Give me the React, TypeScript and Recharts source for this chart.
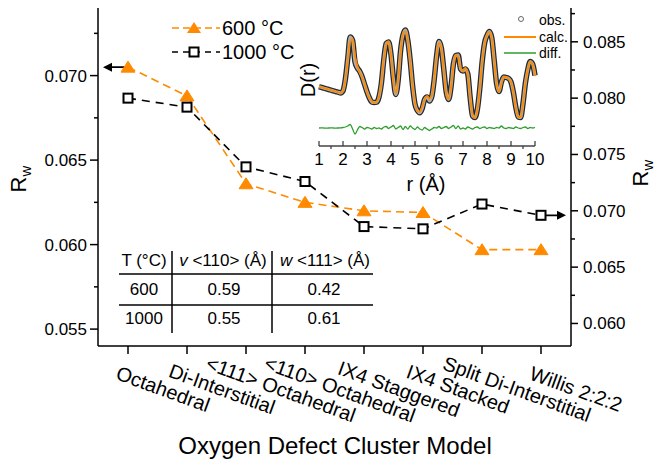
import React from 'react';
import { LineChart, Line, XAxis, YAxis } from 'recharts';

const FONT = "Arial, 'Liberation Sans', Helvetica, sans-serif";

// ---- main chart data ----
const categories = [
  'Octahedral',
  'Di-Interstitial',
  '<111> Octahedral',
  '<110> Octahedral',
  'IX4 Staggered',
  'IX4 Stacked',
  'Split Di-Interstitial',
  'Willis 2:2:2',
];
const rw600 = [0.0705, 0.0688, 0.0636, 0.0625, 0.062, 0.0619, 0.0597, 0.0597];
const rw1000 = [0.08, 0.0792, 0.0739, 0.0726, 0.0686, 0.0684, 0.0706, 0.0696];

const leftTicks = [0.055, 0.0575, 0.06, 0.0625, 0.065, 0.0675, 0.07, 0.0725];
const rightTicks = [0.06, 0.0625, 0.065, 0.0675, 0.07, 0.0725, 0.075, 0.0775, 0.08, 0.0825, 0.085, 0.0875];

// ---- table ----
const tableHeader = ['T (°C)', '<110> (Å)', '<111> (Å)'];
const tableTemps = ['600', '1000'];
const tableV = ['0.59', '0.55'];
const tableW = ['0.42', '0.61'];

// ---- inset PDF data ----
const rValues = [
  1.0, 1.1, 1.2, 1.3, 1.4, 1.5, 1.6, 1.7, 1.8, 1.9,
  2.0, 2.1, 2.2, 2.3, 2.4, 2.5, 2.6, 2.7, 2.8, 2.9,
  3.0, 3.1, 3.2, 3.3, 3.4, 3.5, 3.6, 3.7, 3.8, 3.9,
  4.0, 4.1, 4.2, 4.3, 4.4, 4.5, 4.6, 4.7, 4.8, 4.9,
  5.0, 5.1, 5.2, 5.3, 5.4, 5.5, 5.6, 5.7, 5.8, 5.9,
  6.0, 6.1, 6.2, 6.3, 6.4, 6.5, 6.6, 6.7, 6.8, 6.9,
  7.0, 7.1, 7.2, 7.3, 7.4, 7.5, 7.6, 7.7, 7.8, 7.9,
  8.0, 8.1, 8.2, 8.3, 8.4, 8.5, 8.6, 8.7, 8.8, 8.9,
  9.0, 9.1, 9.2, 9.3, 9.4, 9.5, 9.6, 9.7, 9.8, 9.9,
  10.0,
];
const dObs = [
  4.13, 4.06, 3.99, 3.92, 3.85, 3.78, 3.71, 3.64, 3.58, 3.51,
  3.72, 4.9, 7.0, 9.1, 8.75, 6.6, 6.0, 5.65, 5.1, 4.35,
  3.62, 3.0, 2.6, 2.55, 2.58, 3.1, 4.5, 6.85, 8.45, 8.6,
  7.35, 4.95, 3.35, 4.82, 7.75, 9.3, 9.8, 8.75, 6.75, 4.2,
  2.38, 1.75, 1.52, 1.95, 2.85, 3.1, 2.7, 3.15, 4.85, 7.2,
  8.65, 7.95, 5.85, 3.62, 2.85, 4.1, 6.4, 7.25, 7.3, 5.9,
  5.7, 5.9, 5.4, 3.0, 1.2, 1.05, 1.9, 3.95, 6.65, 8.5,
  9.25, 9.65, 9.0, 6.75, 4.45, 3.65, 4.6, 5.1, 5.05, 4.95,
  4.6, 3.55, 2.1, 1.1, 1.05, 2.45, 4.5, 5.85, 6.65, 6.4,
  5.25,
];
const dCalc = [
  4.13, 4.06, 3.99, 3.92, 3.85, 3.78, 3.71, 3.64, 3.58, 3.51,
  3.7, 4.8, 6.8, 8.75, 8.85, 7.2, 6.2, 5.5, 5.05, 4.45,
  3.57, 3.0, 2.7, 2.5, 2.63, 3.1, 4.6, 6.75, 8.3, 8.65,
  7.25, 4.7, 3.45, 4.77, 7.55, 9.45, 9.65, 8.85, 6.55, 4.2,
  2.53, 1.65, 1.62, 2.15, 2.8, 3.2, 2.95, 3.25, 4.8, 7.2,
  8.5, 8.0, 5.8, 3.47, 2.9, 4.0, 6.15, 7.3, 7.1, 6.0,
  5.7, 6.0, 5.3, 3.0, 1.3, 1.0, 1.8, 4.0, 6.6, 8.4,
  9.3, 9.6, 9.0, 6.8, 4.4, 3.65, 4.4, 5.1, 5.1, 4.9,
  4.6, 3.6, 2.0, 1.1, 1.1, 2.4, 4.4, 5.9, 6.6, 6.4,
  5.2,
];
const dDiff = [
  0.0, 0.02, 0.0, -0.02, 0.0, 0.01, 0.0, -0.01, 0.0, 0.02,
  0.05, 0.1, 0.2, 0.35, -0.1, -0.6, -0.2, 0.15, 0.05, -0.1,
  0.05, 0.0, -0.1, 0.05, -0.05, 0.0, -0.1, 0.1, 0.15, -0.05,
  0.1, 0.25, -0.1, 0.05, 0.2, -0.15, 0.15, -0.1, 0.2, 0.0,
  -0.15, 0.1, -0.1, -0.2, 0.05, -0.1, -0.25, -0.1, 0.05, 0.0,
  0.15, -0.05, 0.05, 0.15, -0.05, 0.1, 0.25, -0.05, 0.2, -0.1,
  0.0, -0.1, 0.1, 0.0, -0.1, 0.05, 0.1, -0.05, 0.05, 0.1,
  -0.05, 0.05, 0.0, -0.05, 0.05, 0.0, 0.2, 0.0, -0.05, 0.05,
  0.0, -0.05, 0.1, 0.0, -0.05, 0.05, 0.1, -0.05, 0.05, 0.0,
  0.05,
];
const rTicks = [1, 1.5, 2, 2.5, 3, 3.5, 4, 4.5, 5, 5.5, 6, 6.5, 7, 7.5, 8, 8.5, 9, 9.5, 10];

const mainData = categories.map((name, i) => ({ name, a: rw600[i], b: rw1000[i] }));
const insetData = rValues.map((r, i) => ({ r, obs: dObs[i], calc: dCalc[i], diff: dDiff[i] }));

const ORANGE = '#FF8A00';
const GREEN = '#2E9E2E';

const isMajor = (v: number) => Math.abs(v * 200 - Math.round(v * 200)) < 1e-6;

const LeftTick = (props: any) => {
  const { x, y, payload } = props;
  const v = payload.value as number;
  const major = isMajor(v);
  return (
    <g>
      <line x1={x} x2={x - (major ? 8 : 4)} y1={y} y2={y} stroke="#000" strokeWidth={1.5} />
      {major && (
        <text x={x - 11} y={y} dy="0.35em" textAnchor="end" fontSize={17} fontFamily={FONT} fill="#000">
          {v.toFixed(3)}
        </text>
      )}
    </g>
  );
};

const RightTick = (props: any) => {
  const { x, y, payload } = props;
  const v = payload.value as number;
  const major = isMajor(v);
  return (
    <g>
      <line x1={x} x2={x + (major ? 7 : 4)} y1={y} y2={y} stroke="#000" strokeWidth={1.5} />
      {major && (
        <text x={x + 12} y={y} dy="0.35em" textAnchor="start" fontSize={17} fontFamily={FONT} fill="#000">
          {v.toFixed(3)}
        </text>
      )}
    </g>
  );
};

const CatTick = (props: any) => {
  const { x, y, payload } = props;
  const cx = x + 35;
  const cy = y + 43;
  return (
    <g>
      <line x1={x} x2={x} y1={y} y2={y + 8} stroke="#000" strokeWidth={1.5} />
      <text
        x={cx}
        y={cy}
        textAnchor="middle"
        dominantBaseline="central"
        fontSize={20}
        fontFamily={FONT}
        fill="#000"
        transform={`rotate(20 ${cx} ${cy})`}
      >
        {payload.value}
      </text>
    </g>
  );
};

const RTick = (props: any) => {
  const { x, y, payload } = props;
  const v = payload.value as number;
  const major = Math.abs(v - Math.round(v)) < 1e-6;
  return (
    <g>
      <line x1={x} x2={x} y1={y} y2={major ? y - 5 : y + 3} stroke="#333" strokeWidth={1.2} />
      {major && (
        <text x={x} y={y + 13} dy="0.35em" textAnchor="middle" fontSize={17} fontFamily={FONT} fill="#000">
          {v}
        </text>
      )}
    </g>
  );
};

const triPoints = (cx: number, cy: number) =>
  `${cx},${cy - 6} ${cx - 7},${cy + 5} ${cx + 7},${cy + 5}`;

const TriDot = (props: any) => {
  const { cx, cy, index } = props;
  if (cx == null || cy == null) return <g key={`t${index}`} />;
  return (
    <g key={`t${index}`}>
      {index === 0 && (
        <g>
          <line x1={cx} x2={cx - 18} y1={cy} y2={cy} stroke="#000" strokeWidth={1.8} />
          <polygon points={`${cx - 25},${cy} ${cx - 16},${cy - 4.5} ${cx - 16},${cy + 4.5}`} fill="#000" />
        </g>
      )}
      <polygon points={triPoints(cx, cy)} fill={ORANGE} stroke={ORANGE} strokeWidth={1} />
    </g>
  );
};

const SqDot = (props: any) => {
  const { cx, cy, index } = props;
  if (cx == null || cy == null) return <g key={`s${index}`} />;
  return (
    <g key={`s${index}`}>
      {index === categories.length - 1 && (
        <g>
          <line x1={cx} x2={cx + 18} y1={cy} y2={cy} stroke="#000" strokeWidth={1.8} />
          <polygon points={`${cx + 25},${cy} ${cx + 16},${cy - 4.5} ${cx + 16},${cy + 4.5}`} fill="#000" />
        </g>
      )}
      <rect x={cx - 4.5} y={cy - 4.5} width={9} height={9} fill="#fff" stroke="#000" strokeWidth={2} />
    </g>
  );
};

export default function App() {
  return (
    <div style={{ position: 'absolute', left: 0, top: 0, width: 660, height: 461, background: '#fff', fontFamily: FONT }}>
      <div style={{ position: 'absolute', left: 0, top: 0 }}>
        <LineChart width={660} height={461} data={mainData} margin={{ top: 8, right: 9, left: 8, bottom: 0 }}>
          <XAxis
            dataKey="name"
            height={115}
            padding={{ left: 30, right: 30 }}
            interval={0}
            tickSize={0}
            tickMargin={0}
            tickLine={false}
            axisLine={{ stroke: '#000', strokeWidth: 1.5 }}
            tick={<CatTick />}
          />
          <XAxis
            xAxisId="top"
            dataKey="name"
            orientation="top"
            height={0}
            padding={{ left: 30, right: 30 }}
            tick={false}
            tickLine={false}
            axisLine={{ stroke: '#000', strokeWidth: 1.5 }}
          />
          <YAxis
            yAxisId="left"
            orientation="left"
            width={90}
            domain={[0.054, 0.074]}
            ticks={leftTicks}
            interval={0}
            tickSize={0}
            tickMargin={0}
            tickLine={false}
            allowDataOverflow
            axisLine={{ stroke: '#000', strokeWidth: 1.5 }}
            tick={<LeftTick />}
          />
          <YAxis
            yAxisId="right"
            orientation="right"
            width={80}
            domain={[0.058, 0.088]}
            ticks={rightTicks}
            interval={0}
            tickSize={0}
            tickMargin={0}
            tickLine={false}
            allowDataOverflow
            axisLine={{ stroke: '#000', strokeWidth: 1.5 }}
            tick={<RightTick />}
          />
          <Line
            yAxisId="left"
            dataKey="a"
            stroke={ORANGE}
            strokeWidth={1.6}
            strokeDasharray="8 5"
            dot={TriDot}
            activeDot={false}
            isAnimationActive={false}
          />
          <Line
            yAxisId="right"
            dataKey="b"
            stroke="#000"
            strokeWidth={1.6}
            strokeDasharray="8 6"
            dot={SqDot}
            activeDot={false}
            isAnimationActive={false}
          />
        </LineChart>
      </div>

      <div style={{ position: 'absolute', left: 300, top: 0 }}>
        <LineChart width={260} height={200} data={insetData} margin={{ top: 15, right: 25, left: 19, bottom: 0 }}>
          <XAxis
            dataKey="r"
            type="number"
            domain={[1, 10]}
            ticks={rTicks}
            interval={0}
            height={54}
            tickSize={0}
            tickMargin={0}
            tickLine={false}
            axisLine={{ stroke: '#444', strokeWidth: 1.5 }}
            tick={<RTick />}
          />
          <YAxis
            width={0}
            domain={[-1.8, 11.3]}
            tick={false}
            tickLine={false}
            allowDataOverflow
            axisLine={{ stroke: '#444', strokeWidth: 1.5 }}
          />
          <Line dataKey="obs" type="monotone" stroke="#2a2a2a" strokeWidth={5.5} dot={false} activeDot={false} isAnimationActive={false} />
          <Line dataKey="obs" type="monotone" stroke="#b0b0b0" strokeWidth={3} dot={false} activeDot={false} isAnimationActive={false} />
          <Line dataKey="calc" type="monotone" stroke={ORANGE} strokeWidth={1.8} dot={false} activeDot={false} isAnimationActive={false} />
          <Line dataKey="diff" type="monotone" stroke={GREEN} strokeWidth={1.3} dot={false} activeDot={false} isAnimationActive={false} />
        </LineChart>
      </div>

      <svg width={660} height={461} style={{ position: 'absolute', left: 0, top: 0, pointerEvents: 'none' }} fontFamily={FONT}>
        {/* axis titles */}
        <text x={26} y={179} textAnchor="middle" fontSize={22} fill="#000" transform="rotate(-90 26 179)">
          R<tspan fontSize={15} dy={5}>w</tspan>
        </text>
        <text x={648} y={173} textAnchor="middle" fontSize={22} fill="#000" transform="rotate(-90 648 173)">
          R<tspan fontSize={15} dy={5}>w</tspan>
        </text>
        <text x={335} y={445} textAnchor="middle" dominantBaseline="central" fontSize={24} fill="#000">
          Oxygen Defect Cluster Model
        </text>

        {/* main legend */}
        <line x1={172} x2={220} y1={28} y2={28} stroke={ORANGE} strokeWidth={1.6} strokeDasharray="7 4" />
        <polygon points={triPoints(194, 28)} fill={ORANGE} />
        <text x={222} y={28} dy="0.35em" fontSize={20} fill="#000">600 °C</text>
        <line x1={172} x2={220} y1={52} y2={52} stroke="#000" strokeWidth={1.6} strokeDasharray="6 5" />
        <rect x={189.5} y={47.5} width={9} height={9} fill="#fff" stroke="#000" strokeWidth={2} />
        <text x={222} y={52} dy="0.35em" fontSize={20} fill="#000">1000 °C</text>

        {/* inset labels */}
        <text x={308} y={80} textAnchor="middle" dominantBaseline="central" fontSize={20} fill="#000" transform="rotate(-90 308 80)">
          D(r)
        </text>
        <text x={426} y={184} textAnchor="middle" dominantBaseline="central" fontSize={20} fill="#000">r (Å)</text>
        <circle cx={521} cy={19} r={2.5} fill="none" stroke="#666" strokeWidth={1} />
        <text x={539} y={20} dy="0.35em" fontSize={14} fill="#000">obs.</text>
        <line x1={504} x2={536} y1={37} y2={37} stroke={ORANGE} strokeWidth={2} />
        <text x={539} y={37} dy="0.35em" fontSize={14} fill="#000">calc.</text>
        <line x1={504} x2={536} y1={53} y2={53} stroke={GREEN} strokeWidth={1.5} />
        <text x={539} y={53} dy="0.35em" fontSize={14} fill="#000">diff.</text>

        {/* table */}
        <line x1={119} x2={373} y1={274} y2={274} stroke="#000" strokeWidth={1.5} />
        <line x1={119} x2={373} y1={305} y2={305} stroke="#000" strokeWidth={1.5} />
        <line x1={172} x2={172} y1={251} y2={333} stroke="#000" strokeWidth={1.5} />
        <line x1={272} x2={272} y1={251} y2={333} stroke="#000" strokeWidth={1.5} />
        <text x={144} y={260} dy="0.35em" textAnchor="middle" fontSize={17} fill="#000">{tableHeader[0]}</text>
        <text x={223} y={260} dy="0.35em" textAnchor="middle" fontSize={17} fill="#000">
          <tspan fontStyle="italic">v</tspan> {tableHeader[1]}
        </text>
        <text x={325} y={260} dy="0.35em" textAnchor="middle" fontSize={17} fill="#000">
          <tspan fontStyle="italic">w</tspan> {tableHeader[2]}
        </text>
        {tableTemps.map((t, i) => (
          <g key={t}>
            <text x={144} y={289 + i * 29.5} dy="0.35em" textAnchor="middle" fontSize={17} fill="#000">{t}</text>
            <text x={224} y={289 + i * 29.5} dy="0.35em" textAnchor="middle" fontSize={17} fill="#000">{tableV[i]}</text>
            <text x={324} y={289 + i * 29.5} dy="0.35em" textAnchor="middle" fontSize={17} fill="#000">{tableW[i]}</text>
          </g>
        ))}
      </svg>
    </div>
  );
}
